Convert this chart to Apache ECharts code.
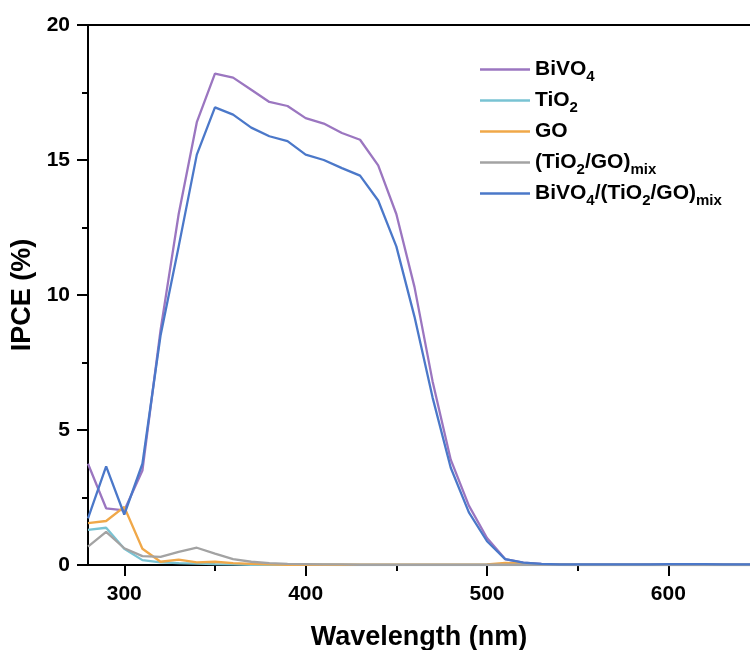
<!DOCTYPE html>
<html>
<head>
<meta charset="utf-8">
<script src="https://cdn.jsdelivr.net/npm/echarts@6/dist/echarts.min.js"></script>
<style>html,body{margin:0;padding:0;background:#fff}#c{width:750px;height:650px}</style>
</head>
<body>
<div id="c"></div>
<script>
const wavelengths = [280,290,300,310,320,330,340,350,360,370,380,390,400,410,420,430,440,450,460,470,480,490,500,510,520,530,540,550,560,570,580,590,600,610,620,630,640,650];
const bivo4 = [3.75,2.1,2.02,3.5,8.7,13.0,16.4,18.2,18.05,17.6,17.15,17.0,16.55,16.35,16.0,15.75,14.8,13.0,10.3,6.8,3.9,2.2,1.0,0.22,0.09,0.04,0.02,0.01,0.01,0.01,0.01,0.02,0.03,0.03,0.02,0.02,0.01,0.01];
const tio2 = [1.3,1.38,0.6,0.18,0.1,0.07,0.05,0.03,0.02,0.01,0.01,0.01,0.01,0.01,0,0,0,0,0,0,0,0,0,0,0,0,0,0,0,0,0,0,0,0,0,0,0,0];
const go = [1.55,1.63,2.15,0.6,0.12,0.2,0.1,0.12,0.07,0.04,0.02,0.01,0.01,0.01,0.01,0.01,0.01,0.01,0.01,0.01,0.01,0.01,0.02,0.08,0.06,0.02,0.01,0,0,0,0,0,0,0,0,0,0,0];
const mix = [0.68,1.23,0.62,0.33,0.3,0.49,0.64,0.42,0.22,0.12,0.07,0.04,0.03,0.02,0.02,0.01,0.01,0.01,0.01,0.01,0.01,0.01,0.01,0.01,0.01,0.01,0.01,0.01,0.01,0.01,0.01,0.01,0.01,0.01,0.01,0.01,0.01,0.01];
const composite = [1.73,3.65,1.87,3.75,8.5,11.8,15.2,16.95,16.68,16.2,15.88,15.7,15.2,15.0,14.7,14.42,13.5,11.8,9.2,6.2,3.6,1.95,0.88,0.22,0.09,0.04,0.02,0.02,0.02,0.02,0.02,0.02,0.03,0.03,0.03,0.02,0.02,0.02];
const xMajorTicks = [300,400,500,600];
const xMinorTicks = [350,450,550];

const names = ['BiVO4','TiO2','GO','(TiO2/GO)mix','BiVO4/(TiO2/GO)mix'];
const legendRich = {
  'BiVO4': '{n|BiVO}{s|4}',
  'TiO2': '{n|TiO}{s|2}',
  'GO': '{n|GO}{s| }',
  '(TiO2/GO)mix': '{n|(TiO}{s|2}{n|/GO)}{s|mix}',
  'BiVO4/(TiO2/GO)mix': '{n|BiVO}{s|4}{n|/(TiO}{s|2}{n|/GO)}{s|mix}'
};
const colors = ['#9b76c0','#79c3d3','#f0a849','#a3a3a3','#4b78c9'];
const seriesData = [bivo4, tio2, go, mix, composite];
const FONT = '"Liberation Sans", Arial, sans-serif';

const chart = echarts.init(document.getElementById('c'), null, {renderer:'canvas'});
chart.setOption({
  animation: false,
  backgroundColor: '#fff',
  grid: {left: 88, right: 0, top: 25, bottom: 85, containLabel: false, outerBoundsMode: 'none'},
  legend: {
    orient: 'vertical', left: 480, top: 55, padding: 0,
    itemWidth: 50, itemHeight: 2.5, itemGap: 2,
    icon: 'rect',
    data: names,
    formatter: n => legendRich[n],
    textStyle: {
      fontFamily: FONT,
      rich: {
        n: {fontSize: 21, fontWeight: 'bold', color: '#000', fontFamily: FONT, lineHeight: 29},
        s: {fontSize: 15, fontWeight: 'bold', color: '#000', fontFamily: FONT, lineHeight: 15, padding: [14,0,0,0]}
      }
    }
  },
  xAxis: [
    {
      type: 'value', min: 280, max: 645, position: 'bottom',
      name: 'Wavelength (nm)', nameLocation: 'middle', nameGap: 59,
      nameTextStyle: {fontSize: 27, fontWeight: 'bold', color: '#000', fontFamily: FONT},
      axisLine: {show: true, onZero: false, lineStyle: {color: '#000', width: 2}},
      axisTick: {show: true, inside: false, length: 11, customValues: xMajorTicks, lineStyle: {color: '#000', width: 2}},
      axisLabel: {customValues: xMajorTicks, margin: 19, fontSize: 21, fontWeight: 'bold', color: '#000', fontFamily: FONT},
      splitLine: {show: false}
    },
    {
      type: 'value', min: 280, max: 645, position: 'bottom',
      axisLine: {show: false},
      axisTick: {show: true, inside: false, length: 6, customValues: xMinorTicks, lineStyle: {color: '#000', width: 2}},
      axisLabel: {show: false},
      splitLine: {show: false}
    },
    {
      type: 'value', min: 280, max: 645, position: 'top',
      axisLine: {show: true, lineStyle: {color: '#000', width: 2}},
      axisTick: {show: false}, axisLabel: {show: false}, splitLine: {show: false}
    }
  ],
  yAxis: {
    type: 'value', min: 0, max: 20, interval: 5,
    name: 'IPCE (%)', nameLocation: 'middle', nameGap: 43,
    nameTextStyle: {fontSize: 27, fontWeight: 'bold', color: '#000', fontFamily: FONT},
    axisLine: {show: true, lineStyle: {color: '#000', width: 2}},
    axisTick: {show: true, inside: false, length: 11, lineStyle: {color: '#000', width: 2}},
    minorTick: {show: true, splitNumber: 2, length: 6, lineStyle: {color: '#000', width: 2}},
    axisLabel: {margin: 18, fontSize: 21, fontWeight: 'bold', color: '#000', fontFamily: FONT},
    splitLine: {show: false}
  },
  series: names.map((n, i) => ({
    name: n, type: 'line', xAxisIndex: 0,
    data: wavelengths.map((w, j) => [w, seriesData[i][j]]),
    showSymbol: false, symbol: 'none',
    lineStyle: {color: colors[i], width: 2.3},
    itemStyle: {color: colors[i]},
    clip: true
  }))
});
</script>
</body>
</html>
